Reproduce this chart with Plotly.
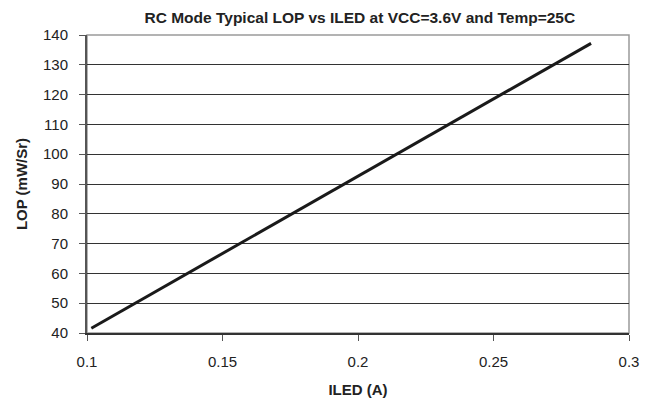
import plotly.graph_objects as go

# Data
iled = [0.1016, 0.286]
lop = [41.6, 137.2]

x_ticks = [0.1, 0.15, 0.2, 0.25, 0.3]
x_tick_labels = ["0.1", "0.15", "0.2", "0.25", "0.3"]
y_ticks = [40, 50, 60, 70, 80, 90, 100, 110, 120, 130, 140]

title_text = "RC Mode Typical LOP vs ILED at VCC=3.6V and Temp=25C"
x_title = "ILED (A)"
y_title = "LOP (mW/Sr)"

FONT = "Liberation Sans Narrow, Arial Narrow, Liberation Sans, Arial, sans-serif"

fig = go.Figure()
fig.add_trace(go.Scatter(
    x=iled, y=lop, mode="lines",
    line=dict(color="#1a1a1a", width=3),
    showlegend=False,
))

fig.update_layout(
    width=654, height=404,
    margin=dict(l=77, r=33, t=27, b=79),
    paper_bgcolor="white", plot_bgcolor="white",
    font=dict(family=FONT, size=15, color="#222"),
    title=dict(text="<b>" + title_text + "</b>", x=0.538, xanchor="center",
               y=0.977, yanchor="middle",
               font=dict(family=FONT, size=15.5, color="#222")),
    shapes=[dict(type="rect", xref="paper", yref="paper", x0=0, y0=0, x1=1, y1=1,
                 line=dict(color="#9a9a9a", width=1.5), layer="below")],
)

fig.update_xaxes(
    range=[0.1, 0.3], tickvals=x_ticks, ticktext=x_tick_labels,
    showgrid=False, zeroline=False,
    showline=True, linecolor="#333", linewidth=1.5,
    ticks="outside", ticklen=6, tickcolor="#555", tickwidth=1,
    ticklabelstandoff=8,
    tickfont=dict(size=15, color="#222"),
    title=dict(text="<b>" + x_title + "</b>", standoff=16,
               font=dict(size=15, color="#222")),
)
fig.update_yaxes(
    range=[40, 140], tickvals=y_ticks,
    showgrid=True, gridcolor="#333", gridwidth=1, zeroline=False,
    showline=True, linecolor="#555", linewidth=2,
    ticks="outside", ticklen=6, tickcolor="#555", tickwidth=1,
    ticklabelstandoff=8,
    tickfont=dict(size=15, color="#222"),
    title=dict(text="<b>" + y_title + "</b>", standoff=12,
               font=dict(size=15, color="#222")),
)

fig.write_html("out.html")
